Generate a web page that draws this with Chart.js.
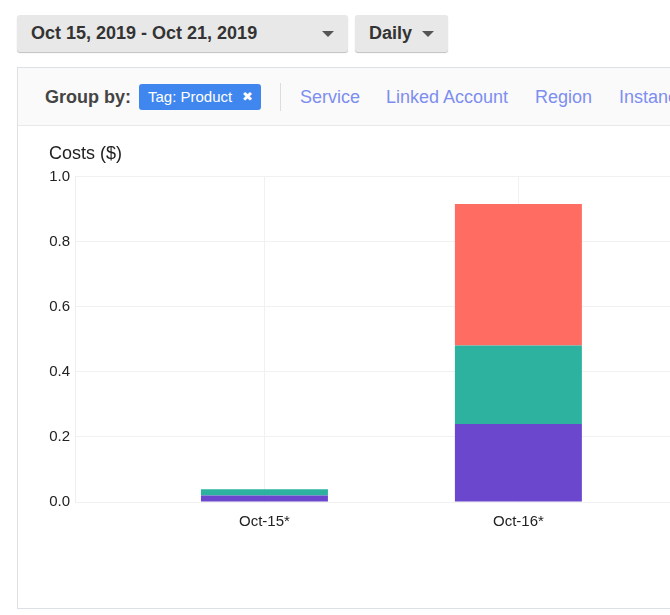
<!DOCTYPE html>
<html>
<head>
<meta charset="utf-8">
<script src="https://cdn.jsdelivr.net/npm/chart.js@4"></script>
<style>
    html, body {
        margin: 0;
        padding: 0;
        background: #fff;
        overflow: hidden;
        width: 670px;
        height: 615px;
        font-family: "Liberation Sans", Arial, sans-serif;
    }
    .btn {
        position: absolute;
        top: 15px;
        height: 37px;
        background: #e8e8e8;
        border-radius: 3px;
        box-shadow: 0 1px 1px rgba(0, 0, 0, 0.25);
        color: #333;
        font-weight: bold;
        font-size: 18px;
        line-height: 37px;
        box-sizing: border-box;
        padding-left: 14px;
    }
    .caret {
        position: absolute;
        top: 16px;
        width: 0;
        height: 0;
        border-left: 6px solid transparent;
        border-right: 6px solid transparent;
        border-top: 6px solid #555;
    }
    #panel {
        position: absolute;
        left: 17px;
        top: 67px;
        width: 720px;
        height: 542px;
        border: 1px solid #dde1e3;
        box-sizing: border-box;
    }
    #groupbar {
        position: absolute;
        left: 0;
        top: 0;
        right: 0;
        height: 58px;
        background: #fafafa;
        border-bottom: 1px solid #e6e8e9;
        box-sizing: border-box;
    }
    .gb-label {
        position: absolute;
        left: 27px;
        top: 19px;
        font-weight: bold;
        font-size: 18px;
        color: #444;
    }
    .chip {
        position: absolute;
        left: 121px;
        top: 16px;
        width: 122px;
        height: 26px;
        background: #3f87ef;
        border-radius: 3px;
        color: #fff;
        font-size: 15px;
        line-height: 26px;
        padding-left: 9px;
        box-sizing: border-box;
    }
    .chip .x {
        position: absolute;
        left: 103px;
        top: 0;
        font-size: 13px;
        font-family: "DejaVu Sans", sans-serif;
    }
    .sep {
        position: absolute;
        left: 262px;
        top: 15px;
        width: 1px;
        height: 28px;
        background: #ddd;
    }
    .link {
        position: absolute;
        top: 19px;
        font-size: 18px;
        color: #7d8ef0;
        white-space: nowrap;
    }
    #chart-wrap {
        position: absolute;
        left: 18px;
        top: 127px;
        width: 652px;
        height: 480px;
    }
</style>
</head>
<body>

<div class="btn" style="left:17px;width:331px;">Oct 15, 2019 - Oct 21, 2019<span class="caret" style="left:305px;"></span></div>
<div class="btn" style="left:355px;width:93px;">Daily<span class="caret" style="left:67px;"></span></div>

<div id="panel">
    <div id="groupbar">
        <div class="gb-label">Group by:</div>
        <div class="chip">Tag: Product<span class="x">✖</span></div>
        <div class="sep"></div>
        <div class="link" style="left:282px;">Service</div>
        <div class="link" style="left:368px;">Linked Account</div>
        <div class="link" style="left:517px;">Region</div>
        <div class="link" style="left:601px;">Instance Type</div>
    </div>
</div>

<div id="chart-wrap"><canvas id="cost-chart"></canvas></div>

<script>
// Visible days of the daily cost view
const days = ['Oct-15*', 'Oct-16*'];

// Cost per product tag, stacked bottom to top
const productA = [0.020, 0.240];
const productB = [0.019, 0.241];
const productC = [0, 0.435];

const seriesNames = ['Product A', 'Product B', 'Product C'];
const seriesColors = ['#6a47cd', '#2db2a0', '#ff6c61'];

const yTicks = [0, 0.2, 0.4, 0.6, 0.8, 1.0];

function toPoints(values) {
    return values.map((v, i) => ({ x: i, y: v }));
}

const datasets = [productA, productB, productC].map((values, i) => ({
    label: seriesNames[i],
    data: toPoints(values),
    backgroundColor: seriesColors[i],
    borderWidth: 0,
    barPercentage: 0.5,
    categoryPercentage: 1.0
}));

const gridColor = '#f1f1f1';
const tickFont = { family: '"Liberation Sans", Arial, sans-serif', size: 15 };

new Chart(document.getElementById('cost-chart').getContext('2d'), {
    type: 'bar',
    data: { datasets: datasets },
    options: {
        responsive: true,
        maintainAspectRatio: false,
        animation: false,
        layout: {
            padding: { left: 31, right: 0, top: 0, bottom: 76 }
        },
        plugins: {
            legend: { display: false },
            tooltip: { enabled: false },
            title: {
                display: true,
                text: 'Costs ($)',
                align: 'start',
                color: '#222',
                font: { family: '"Liberation Sans", Arial, sans-serif', size: 18, weight: 'normal' },
                padding: { top: 16, bottom: 12 }
            }
        },
        scales: {
            x: {
                type: 'linear',
                stacked: true,
                offset: false,
                min: -0.746,
                max: 1.597,
                afterBuildTicks: function(scale) {
                    scale.ticks = days.map((_, i) => ({ value: i }));
                },
                afterFit: function(scale) {
                    scale.height = 29;
                },
                grid: { color: gridColor, drawTicks: false, offset: false },
                border: { color: gridColor },
                ticks: {
                    padding: 11,
                    color: '#222',
                    font: tickFont,
                    callback: (value) => days[value] || ''
                }
            },
            y: {
                stacked: true,
                min: 0,
                max: 1,
                afterBuildTicks: function(scale) {
                    scale.ticks = yTicks.map(v => ({ value: v }));
                },
                afterFit: function(scale) {
                    scale.width = 26;
                },
                grid: { color: gridColor, drawTicks: false },
                border: { color: '#eeeeee' },
                ticks: {
                    padding: 5,
                    color: '#222',
                    font: tickFont,
                    callback: (value) => value.toFixed(1)
                }
            }
        }
    }
});
</script>
</body>
</html>
